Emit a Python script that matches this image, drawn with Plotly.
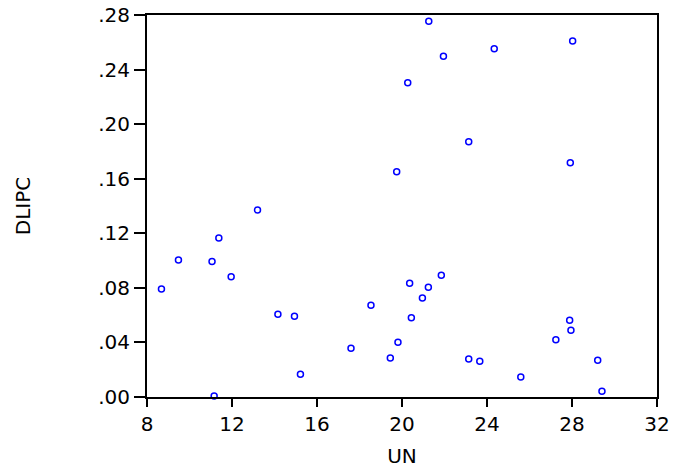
import plotly.graph_objects as go

# Data (UN vs DLIPC)
un = [21.26, 21.95, 24.34, 28.03, 20.27, 23.14, 27.92, 19.75,
      13.20, 11.38, 9.48, 11.06, 11.96, 8.68, 14.16, 14.94, 18.54,
      17.60, 19.45, 19.81, 15.22, 11.16,
      21.85, 20.36, 21.24, 20.96, 20.44, 23.14, 23.66, 25.59,
      27.89, 27.95, 27.24, 29.21, 29.41]
dlipc = [0.2754, 0.2497, 0.2553, 0.2610, 0.2304, 0.1871, 0.1717, 0.1651,
         0.1370, 0.1165, 0.1004, 0.0994, 0.0882, 0.0791, 0.0606, 0.0591, 0.0672,
         0.0357, 0.0286, 0.0401, 0.0166, 0.0007,
         0.0892, 0.0833, 0.0804, 0.0726, 0.0581, 0.0279, 0.0262, 0.0147,
         0.0562, 0.0489, 0.0420, 0.0269, 0.0042]

x_ticks = [8, 12, 16, 20, 24, 28, 32]
y_ticks = [0.00, 0.04, 0.08, 0.12, 0.16, 0.20, 0.24, 0.28]
y_tick_text = [".00", ".04", ".08", ".12", ".16", ".20", ".24", ".28"]

fig = go.Figure()
fig.add_trace(go.Scatter(
    x=un, y=dlipc, mode="markers",
    marker=dict(symbol="circle-open", size=6, color="#0000FF",
                line=dict(width=1.5, color="#0000FF")),
    cliponaxis=False, showlegend=False,
))

font = dict(family="DejaVu Sans", size=20, color="black")
fig.update_layout(
    width=675, height=471,
    margin=dict(l=147, r=18, t=15, b=74, pad=0, autoexpand=False),
    paper_bgcolor="white", plot_bgcolor="white",
    font=font,
    xaxis=dict(range=[8, 32], tickvals=x_ticks, ticks="outside", ticklen=8,
               tickwidth=1.5, tickcolor="black", showline=True, mirror=True,
               linecolor="black", linewidth=2, showgrid=False, zeroline=False,
               automargin=False,
               title=dict(text="UN", font=font, standoff=14)),
    yaxis=dict(range=[0, 0.28], tickvals=y_ticks, ticktext=y_tick_text,
               ticks="outside", ticklen=11, tickwidth=1.5, tickcolor="black",
               showline=True, mirror=True, linecolor="black", linewidth=2,
               showgrid=False, zeroline=False, automargin=False,
               title=dict(text="DLIPC", font=font, standoff=62)),
)

fig.write_html(
    "out.html",
    config={"displayModeBar": False},
    post_script="document.body.style.margin='0';document.body.style.padding='0';",
)
